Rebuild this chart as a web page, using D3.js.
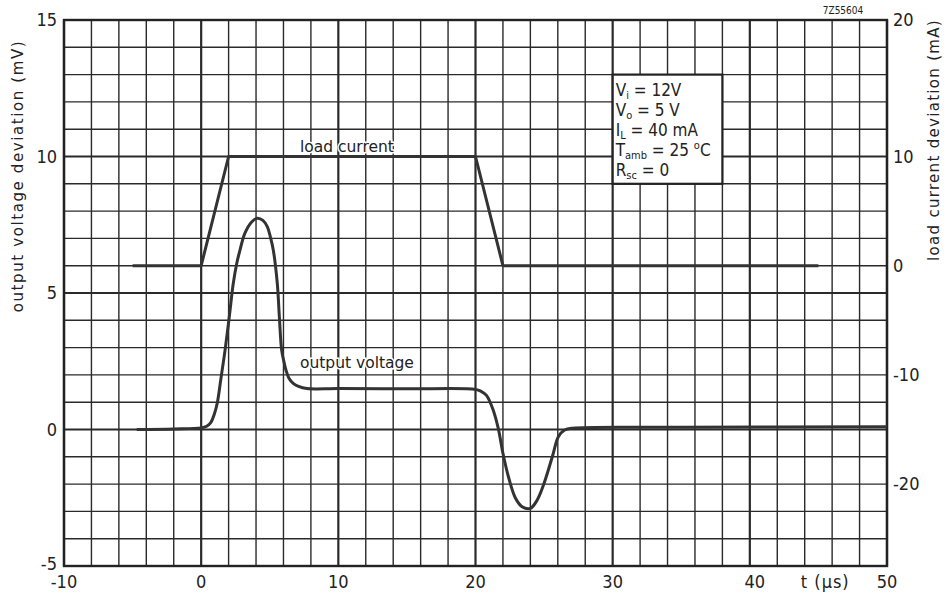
<!DOCTYPE html>
<html>
<head>
<meta charset="utf-8">
<script src="https://cdn.jsdelivr.net/npm/d3@7"></script>
<style>
html,body{margin:0;padding:0;background:#fff;}
svg{display:block;}
text{font-family:"Liberation Sans Narrow","DejaVu Sans Condensed","Liberation Sans",sans-serif;fill:#222;}
text.wide{font-family:"DejaVu Sans","Liberation Sans",sans-serif;}
</style>
</head>
<body>
<svg id="chart" width="944" height="593"></svg>
<script>
// ---- data ----
const xTicks = [-10, 0, 10, 20, 30, 40, 50];
const yLeftTicks = [-5, 0, 5, 10, 15];
const yRightTicks = [-20, -10, 0, 10];
const yRightTopLabel = "20";
const xTitle = "t (µs)";
const yLeftTitle = "output voltage deviation  (mV)";
const yRightTitle = "load current deviation (mA)";
const figCode = "7Z55604";

// load current (µs, mA) – right axis
const loadT = [-5, 0, 2, 20, 22, 45];
const loadI = [0, 0, 10, 10, 0, 0];

// output voltage (µs, mV) – left axis
const voutT = [-4.7, -2, 0, 0.4, 0.7, 0.95, 1.17, 1.45, 1.74, 2.05, 2.34, 2.6, 2.83, 3.19, 3.68, 4.09, 4.5, 4.82, 5.05, 5.26, 5.55, 5.7, 5.87, 6.05, 6.18, 6.4, 6.71, 7.1, 7.7, 10, 15, 20, 20.4, 20.8, 21.3, 21.66, 22.0, 22.4, 22.9, 23.4, 24.0, 24.5, 25.0, 25.6, 26.05, 26.5, 27.1, 35, 50];
const voutV = [0, 0.02, 0.06, 0.12, 0.25, 0.55, 0.96, 1.9, 2.9, 4.13, 5.35, 6.1, 6.57, 7.19, 7.6, 7.74, 7.66, 7.43, 7.05, 6.57, 5.35, 4.13, 2.9, 2.45, 2.18, 1.88, 1.69, 1.58, 1.5, 1.5, 1.49, 1.47, 1.4, 1.25, 0.7, 0.04, -0.87, -1.73, -2.5, -2.83, -2.89, -2.58, -1.97, -1.0, -0.26, -0.02, 0.05, 0.08, 0.1];

const curveLabels = [
  {text: "load current", t: 7.2, v: 10.15},
  {text: "output voltage", t: 7.2, v: 2.25}
];

const conditions = [
  {main: "V", sub: "i", rest: " = 12V"},
  {main: "V", sub: "o", rest: " = 5 V"},
  {main: "I", sub: "L", rest: " = 40 mA"},
  {main: "T", sub: "amb", rest: " = 25 ", sup: "o", tail: "C"},
  {main: "R", sub: "sc", rest: " = 0"}
];
const boxT = [30, 38];
const boxV = [9, 13];

// ---- layout ----
const W = 944, H = 593;
const m = {left: 64, top: 20, right: 57, bottom: 27};
const svg = d3.select("#chart");

const x = d3.scaleLinear().domain([-10, 50]).range([m.left, W - m.right]);
const y = d3.scaleLinear().domain([-5, 15]).range([H - m.bottom, m.top]);
// right axis: 0 mA at 6 mV, 10 mA at 10 mV
const yR = d3.scaleLinear().domain([-27.5, 22.5]).range([H - m.bottom, m.top]);

const g = svg.append("g");

// grid
const xMinor = d3.range(-10, 50.001, 2);
const yMinor = d3.range(-5, 15.001, 1);
g.selectAll("line.vx").data(xMinor).join("line")
  .attr("x1", d => x(d)).attr("x2", d => x(d))
  .attr("y1", y(-5)).attr("y2", y(15))
  .attr("stroke", "#2a2a2a")
  .attr("stroke-width", d => (d % 10 === 0) ? 2.2 : 1.4);
g.selectAll("line.hy").data(yMinor).join("line")
  .attr("y1", d => y(d)).attr("y2", d => y(d))
  .attr("x1", x(-10)).attr("x2", x(50))
  .attr("stroke", "#2a2a2a")
  .attr("stroke-width", d => (d % 5 === 0) ? 2.2 : 1.4);

// frame
g.append("rect")
  .attr("x", x(-10)).attr("y", y(15))
  .attr("width", x(50) - x(-10)).attr("height", y(-5) - y(15))
  .attr("fill", "none").attr("stroke", "#222").attr("stroke-width", 2.4);

// conditions box
g.append("rect")
  .attr("x", x(boxT[0])).attr("y", y(boxV[1]))
  .attr("width", x(boxT[1]) - x(boxT[0])).attr("height", y(boxV[0]) - y(boxV[1]))
  .attr("fill", "#fff").attr("stroke", "#222").attr("stroke-width", 2.2);

const condG = g.append("g");
conditions.forEach((c, i) => {
  const t = condG.append("text")
    .attr("x", x(boxT[0]) + 3)
    .attr("y", y(boxV[1]) + 21 + i * 20.2)
    .attr("font-size", 17);
  t.append("tspan").text(c.main);
  t.append("tspan").attr("font-size", 11).attr("dy", 3).text(c.sub);
  t.append("tspan").attr("dy", -3).text(c.rest);
  if (c.sup) {
    t.append("tspan").attr("font-size", 11).attr("dy", -7).text(c.sup);
    t.append("tspan").attr("dy", 7).text(c.tail);
  }
});

// curves
const loadData = loadT.map((t, i) => [t, loadI[i]]);
const voutData = voutT.map((t, i) => [t, voutV[i]]);

g.append("path").datum(loadData)
  .attr("fill", "none").attr("stroke", "#333").attr("stroke-width", 3)
  .attr("stroke-linejoin", "round")
  .attr("d", d3.line().x(d => x(d[0])).y(d => yR(d[1])));

g.append("path").datum(voutData)
  .attr("fill", "none").attr("stroke", "#333").attr("stroke-width", 3)
  .attr("stroke-linejoin", "round")
  .attr("d", d3.line().curve(d3.curveCatmullRom.alpha(0.5)).x(d => x(d[0])).y(d => y(d[1])));

// curve labels
curveLabels.forEach(l => {
  g.append("text").attr("class", "wide")
    .attr("x", x(l.t)).attr("y", y(l.v))
    .attr("font-size", 15.5)
    .attr("stroke", "#fff").attr("stroke-width", 3).attr("paint-order", "stroke")
    .attr("style", "fill:#222")
    .text(l.text);
});

// axes tick labels
const axG = svg.append("g");
axG.selectAll("text.xl").data(xTicks).join("text")
  .attr("x", d => x(d) + (d === 40 ? 5 : 0)).attr("y", H - 5)
  .attr("text-anchor", "middle").attr("font-size", 18)
  .text(d => d);
axG.selectAll("text.yl").data(yLeftTicks).join("text")
  .attr("x", m.left - 7).attr("y", d => y(d) + 6 + (d === -5 ? -2 : 0))
  .attr("text-anchor", "end").attr("font-size", 18)
  .text(d => d);
axG.selectAll("text.yr").data(yRightTicks).join("text")
  .attr("x", W - m.right + 6).attr("y", d => yR(d) + 6)
  .attr("text-anchor", "start").attr("font-size", 18)
  .text(d => d);
axG.append("text")
  .attr("x", W - m.right + 6).attr("y", y(15) + 6)
  .attr("font-size", 18).text(yRightTopLabel);

// x title
svg.append("text")
  .attr("x", x(45.5)).attr("y", H - 5)
  .attr("text-anchor", "middle").attr("font-size", 18)
  .attr("letter-spacing", 1)
  .text(xTitle);

// y titles
svg.append("text").attr("class", "wide")
  .attr("transform", `translate(23,${176}) rotate(-90)`)
  .attr("text-anchor", "middle").attr("font-size", 15)
  .attr("letter-spacing", 1.6)
  .text(yLeftTitle);
svg.append("text").attr("class", "wide")
  .attr("transform", `translate(939,${140}) rotate(-90)`)
  .attr("text-anchor", "middle").attr("font-size", 15)
  .attr("letter-spacing", 1.3)
  .text(yRightTitle);

// figure code
svg.append("text")
  .attr("x", 843).attr("y", 14)
  .attr("text-anchor", "middle").attr("font-size", 10)
  .text(figCode);
</script>
</body>
</html>
